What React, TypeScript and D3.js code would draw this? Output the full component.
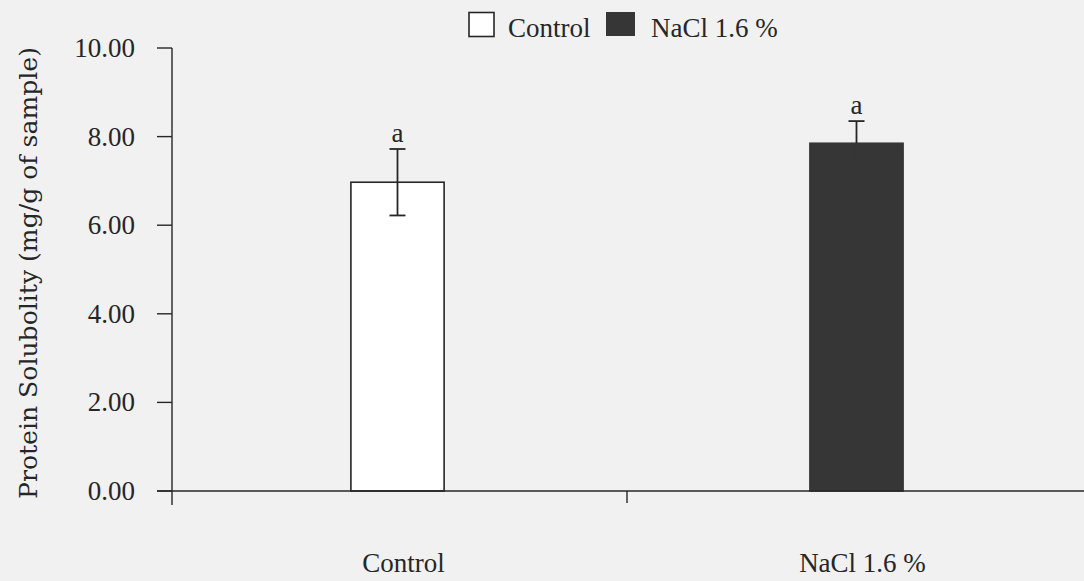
import React from "react";
import * as d3 from "d3";

// Protein solubility per treatment (mg/g of sample)
const categories = ["Control", "NaCl 1.6 %"];
const means = [6.97, 7.85];
const errors = [0.75, 0.5];
const letters = ["a", "a"];
const yTicks = [0, 2, 4, 6, 8, 10];
const yTitle = "Protein Solubolity (mg/g of sample)";

const W = 1084;
const H = 581;
const FONT = "'Liberation Serif', 'Times New Roman', serif";
const INK = "#262626";
const BG = "#f1f1f1";
const DARK = "#363636";

export default function App() {
  const y = d3.scaleLinear().domain([0, 10]).range([491, 48]);
  const x = d3.scaleBand<string>().domain(categories).range([168, 1086]).padding(0);
  const barW = x.bandwidth() * 0.203;
  const fills = ["#ffffff", DARK];
  const capHalf = 8;

  return (
    <svg
      width={W}
      height={H}
      style={{ position: "fixed", left: 0, top: 0, background: BG }}
      fontFamily={FONT}
    >
      <rect x={0} y={0} width={W} height={H} fill={BG} />

      {/* legend */}
      <g fill={INK} fontSize={27}>
        <rect x={469} y={12.5} width={25} height={24} fill="#fff" stroke={INK} strokeWidth={1.6} />
        <text x={508} y={37}>{categories[0]}</text>
        <rect x={606} y={12} width={29} height={24} fill={DARK} />
        <text x={651} y={37}>{categories[1]}</text>
      </g>

      {/* bars */}
      {categories.map((c, i) => {
        const cx = (x(c) as number) + x.bandwidth() / 2;
        return (
          <rect
            key={c}
            x={cx - barW / 2}
            y={y(means[i])}
            width={barW}
            height={y(0) - y(means[i])}
            fill={fills[i]}
            stroke={i === 0 ? INK : DARK}
            strokeWidth={1.6}
          />
        );
      })}

      {/* error bars and significance letters; the part inside a filled bar takes the bar's colour */}
      {categories.map((c, i) => {
        const cx = (x(c) as number) + x.bandwidth() / 2;
        const top = y(means[i] + errors[i]);
        const mid = y(means[i]);
        const bot = y(means[i] - errors[i]);
        const inner = i === 0 ? INK : DARK;
        return (
          <g key={c} strokeWidth={1.8}>
            <line x1={cx} x2={cx} y1={top} y2={mid} stroke={INK} />
            <line x1={cx - capHalf} x2={cx + capHalf} y1={top} y2={top} stroke={INK} />
            <line x1={cx} x2={cx} y1={mid} y2={bot} stroke={inner} />
            <line x1={cx - capHalf} x2={cx + capHalf} y1={bot} y2={bot} stroke={inner} />
            <text x={cx} y={top - 7} textAnchor="middle" fontSize={27} fill={INK}>
              {letters[i]}
            </text>
          </g>
        );
      })}

      {/* y axis */}
      <g stroke={INK} strokeWidth={1.4}>
        <line x1={172} x2={172} y1={y(10)} y2={505} />
        {yTicks.map((t) => (
          <line key={t} x1={157} x2={172} y1={y(t)} y2={y(t)} />
        ))}
      </g>
      <g fill={INK} fontSize={27} textAnchor="end">
        {yTicks.map((t) => (
          <text key={t} x={135} y={y(t) + 9}>
            {t.toFixed(2)}
          </text>
        ))}
      </g>
      <text
        transform={`translate(37, ${(46 + 500) / 2}) rotate(-90)`}
        textAnchor="middle"
        fontSize={25}
        fontFamily="'DejaVu Serif', serif"
        fill={INK}
        textLength={452}
        lengthAdjust="spacingAndGlyphs"
      >
        {yTitle}
      </text>

      {/* x axis */}
      <g stroke={INK} strokeWidth={1.4}>
        <line x1={157} x2={W} y1={y(0)} y2={y(0)} />
        <line x1={x(categories[1])} x2={x(categories[1])} y1={y(0)} y2={503} />
      </g>
      <g fill={INK} fontSize={27} textAnchor="middle">
        {categories.map((c) => (
          <text key={c} x={(x(c) as number) + x.bandwidth() / 2 + 6} y={572}>
            {c}
          </text>
        ))}
      </g>
    </svg>
  );
}
